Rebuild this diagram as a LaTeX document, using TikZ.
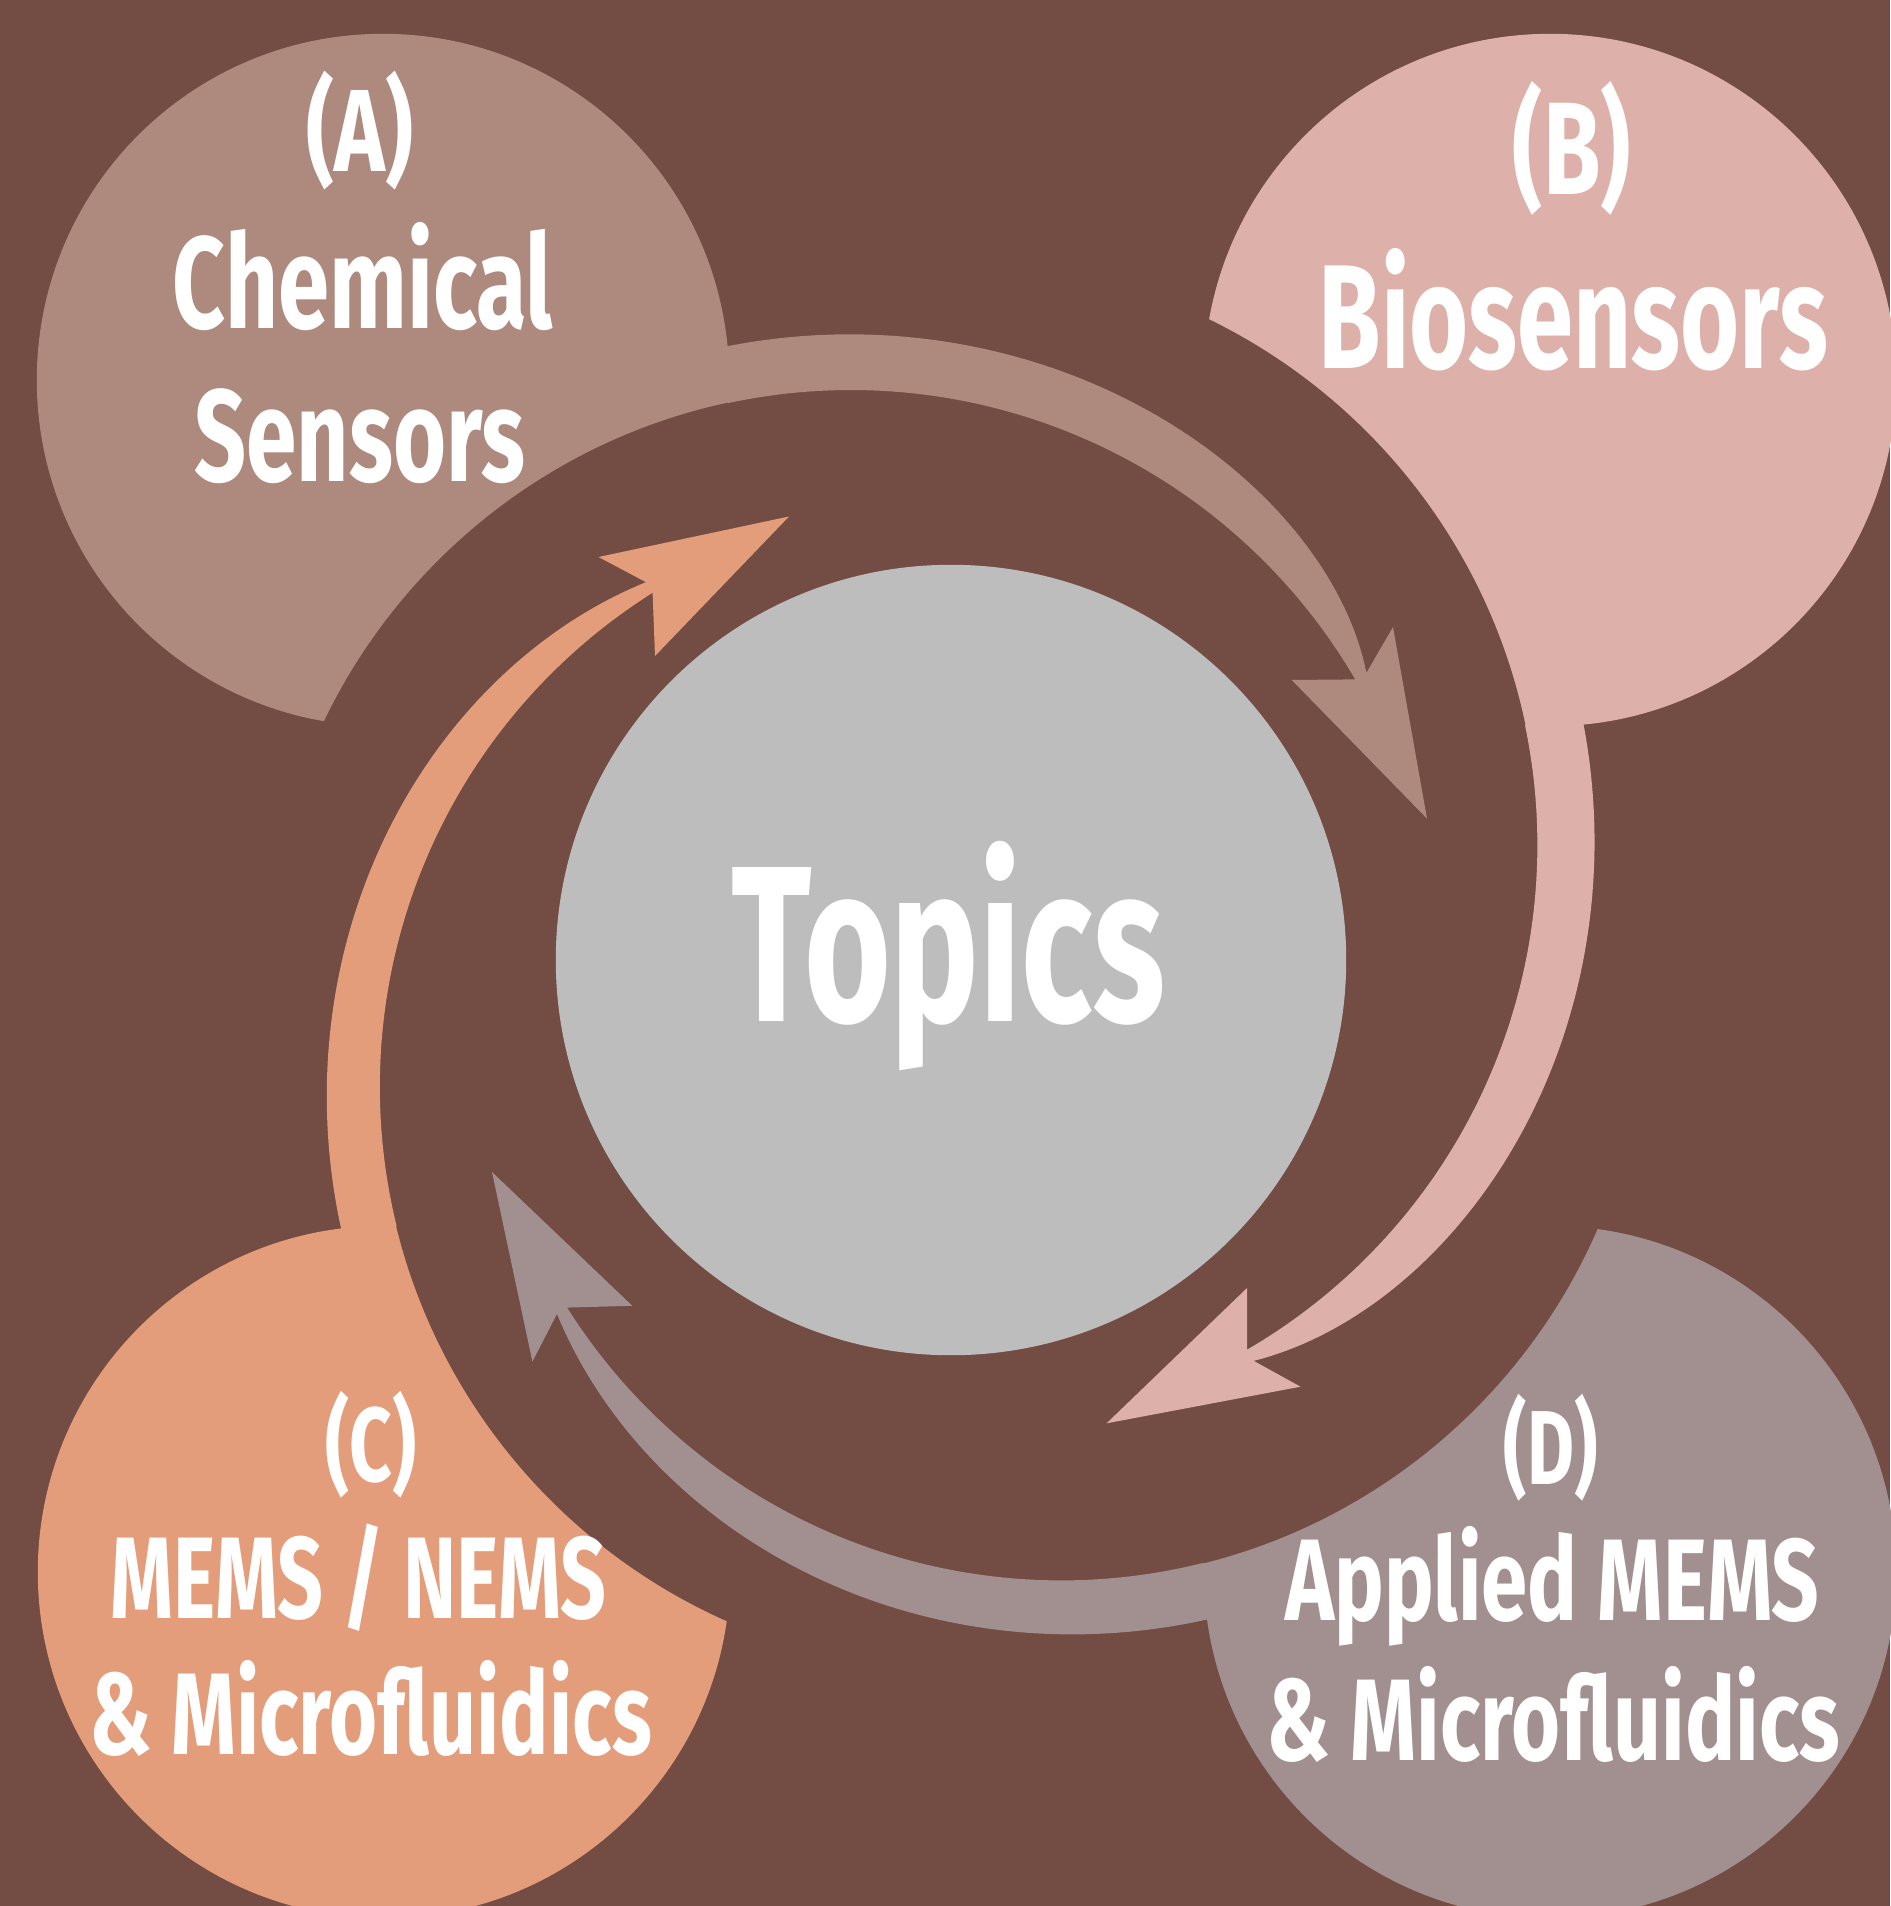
\documentclass[tikz,border=0pt]{standalone}
\usepackage{fontspec}
\setmainfont{Fira Sans}
\usepackage{graphicx}
\definecolor{bg}{HTML}{734C43}
\definecolor{cA}{HTML}{AE897D}
\definecolor{cB}{HTML}{DDB0A9}
\definecolor{cC}{HTML}{E49D7A}
\definecolor{cD}{HTML}{A28F8F}
\definecolor{gry}{HTML}{BDBDBD}
\newcommand{\fitw}[3]{\resizebox{#1}{\height}{\fontsize{#2}{#2}\selectfont\bfseries #3}}
\newcommand{\fitp}[3]{\resizebox*{#1}{#2}{\fontsize{40pt}{40pt}\selectfont\bfseries #3}}
\begin{document}
\begin{tikzpicture}[x=0.01cm,y=-0.01cm,
  txt/.style={text=white, inner sep=0pt, anchor=base},
  disc/.style={circle, inner sep=0pt, minimum size=6.92cm},
  cut/.style={fill=bg}]
\useasboundingbox (0,0) rectangle (1890,1906);
\fill[bg] (0,0) rectangle (1890,1906);
% corner circles
\node[disc, fill=cA] (A) at (383,380) {};
\node[disc, fill=cB] (B) at (1550,380) {};
\node[disc, fill=cC] (C) at (384,1572) {};
\node[disc, fill=cD] (D) at (1550,1572) {};
% centres of the inner edges of the four curved arrows
\coordinate (kA) at (851,974);
\coordinate (kB) at (953.4,844.9);
\coordinate (kC) at (963.8,1086.9);
\coordinate (kD) at (1061.3,996.4);
% cuts into the corner circles
\begin{scope}\clip (A.center) circle[radius=3.5cm]; \fill[cut] (kA) circle[radius=5.84cm];\end{scope}
\begin{scope}\clip (B.center) circle[radius=3.5cm]; \fill[cut] (kB) circle[radius=5.84cm];\end{scope}
\begin{scope}\clip (C.center) circle[radius=3.5cm]; \fill[cut] (kC) circle[radius=5.84cm];\end{scope}
\begin{scope}\clip (D.center) circle[radius=3.5cm]; \fill[cut] (kD) circle[radius=5.84cm];\end{scope}
% arrow A (from Chemical Sensors)
\fill[cA] plot[domain=-102.14:-30.3, samples=90, variable=\t] ({851+584*cos(\t)},{974+584*sin(\t)})
  -- (1291.7,680) -- (1427,818.6) -- (1393,627)
  -- plot[domain=-30.3:-102.14, samples=90, variable=\t]
     ({851+(597+43*(1-exp((\t+30.3)/12)))*cos(\t)},{974+(597+43*(1-exp((\t+30.3)/12)))*sin(\t)}) -- cycle;
% arrow B (from Biosensors)
\fill[cB] plot[domain=-11.85:59.8, samples=90, variable=\t] ({953.4+584*cos(\t)},{844.9+584*sin(\t)})
  -- (1247,1288) -- (1106.6,1423.3) -- (1300.5,1386.7)
  -- plot[domain=59.8:-11.85, samples=90, variable=\t]
     ({953.4+(597+45*(1-exp((\t-59.8)/15)))*cos(\t)},{844.9+(597+45*(1-exp((\t-59.8)/15)))*sin(\t)}) -- cycle;
% arrow C (from MEMS / NEMS)
\fill[cC] plot[domain=166.19:237.8, samples=90, variable=\t] ({963.8+584*cos(\t)},{1086.9+584*sin(\t)})
  -- (655,656) -- (789,516.5) -- (598.5,557)
  -- plot[domain=237.8:166.19, samples=90, variable=\t]
     ({963.8+(596.5+44.5*(1-exp((\t-237.8)/24)))*cos(\t)},{1086.9+(596.5+44.5*(1-exp((\t-237.8)/24)))*sin(\t)}) -- cycle;
% arrow D (from Applied MEMS)
\fill[cD] plot[domain=75.85:147.8, samples=90, variable=\t] ({1061.3+584*cos(\t)},{996.4+584*sin(\t)})
  -- (632.3,1305.8) -- (492,1172) -- (532.4,1361.6)
  -- plot[domain=147.8:75.85, samples=90, variable=\t]
     ({1061.3+(596+47*(1-exp((\t-147.8)/26)))*cos(\t)},{996.4+(596+47*(1-exp((\t-147.8)/26)))*sin(\t)}) -- cycle;
% centre
\node[circle, fill=gry, inner sep=0pt, minimum size=7.9cm] (T) at (951,960) {};
\node[txt] (tT) at (948.3,1021.7) {\fitw{4.33cm}{63.2pt}{Topics}};
% labels
\node[txt] (tA1) at (360,171.7) {\fitp{1.067cm}{1.19cm}{(A)}};
\node[txt] (tA2) at (363,328.5) {\fitw{3.8cm}{37.2pt}{Chemical}};
\node[txt] (tA3) at (360,481) {\fitw{3.31cm}{37.2pt}{Sensors}};
\node[txt] (tB1) at (1571.8,195) {\fitp{1.18cm}{1.34cm}{(B)}};
\node[txt] (tB2) at (1573.3,368) {\fitw{5.09cm}{42.1pt}{Biosensors}};
\node[txt] (tC1) at (371,1481) {\fitp{0.91cm}{1.07cm}{(C)}};
\node[txt] (tC2) at (358.5,1618) {\fitw{4.95cm}{33pt}{MEMS / NEMS}};
\node[txt] (tC3) at (370.6,1754) {\fitw{5.62cm}{33pt}{\& Microfluidics}};
\node[txt] (tD1) at (1550.6,1484) {\fitp{0.94cm}{1.07cm}{(D)}};
\node[txt] (tD2) at (1552,1620) {\fitw{5.335cm}{33pt}{Applied MEMS}};
\node[txt] (tD3) at (1553.6,1760) {\fitw{5.73cm}{33pt}{\& Microfluidics}};
\end{tikzpicture}
\end{document}
